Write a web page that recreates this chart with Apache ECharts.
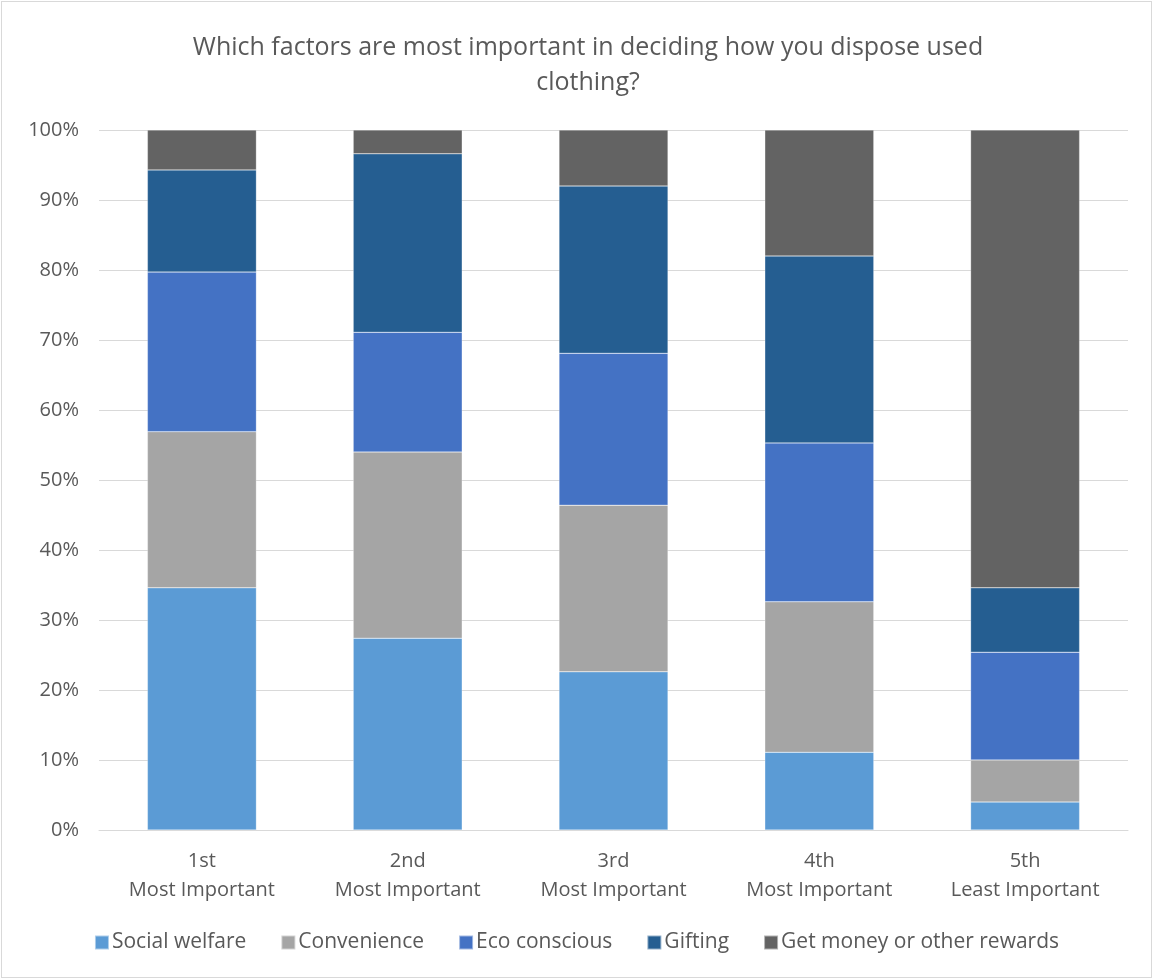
<!DOCTYPE html>
<html>
<head>
<meta charset="utf-8">
<script src="https://cdn.jsdelivr.net/npm/echarts@6/dist/echarts.min.js"></script>
<style>
  html, body { margin: 0; padding: 0; background: #fff; }
  #main { position: absolute; left: 1px; top: 1px; width: 1149px; height: 975px; border: 1px solid #d9d9d9; }
</style>
</head>
<body>
<div id="main"></div>
<script>
// categories and stacked shares (percent)
const categories = ['1st\nMost Important', '2nd\nMost Important', '3rd\nMost Important', '4th\nMost Important', '5th\nLeast Important'];
const socialWelfare = [34.6, 27.4, 22.6, 11.1, 4.0];
const convenience   = [22.3, 26.6, 23.8, 21.5, 6.0];
const ecoConscious  = [22.8, 17.1, 21.7, 22.7, 15.4];
const gifting       = [14.6, 25.5, 23.9, 26.7, 9.2];
const getMoney      = [5.7, 3.4, 8.0, 18.0, 65.4];

const seriesNames = ['Social welfare', 'Convenience', 'Eco conscious', 'Gifting', 'Get money or other rewards'];
const seriesData = [socialWelfare, convenience, ecoConscious, gifting, getMoney];
const colors = ['#5B9BD5', '#A5A5A5', '#4472C4', '#255E91', '#636363'];

const font = 'Open Sans';

let myChart = echarts.init(document.getElementById('main'));
let option = {
  color: colors,
  animation: false,
  title: {
    text: 'Which factors are most important in deciding how you dispose used\nclothing?',
    left: 581,
    top: 23,
    textAlign: 'center',
    textStyle: { fontFamily: font, fontSize: 25, fontWeight: 'normal', color: '#595959', lineHeight: 35 }
  },
  legend: {
    bottom: 19,
    left: 'center',
    itemWidth: 14,
    itemHeight: 14,
    itemGap: 34,
    icon: 'rect',
    textStyle: { fontFamily: font, fontSize: 21, color: '#595959', padding: [0, 0, 0, -2] }
  },
  grid: { left: 97, right: 23, top: 128, bottom: 147 },
  xAxis: {
    type: 'category',
    data: categories,
    axisLine: { lineStyle: { color: '#d9d9d9' } },
    axisTick: { show: false },
    axisLabel: { fontFamily: font, fontSize: 20, color: '#595959', lineHeight: 29, margin: 17 }
  },
  yAxis: {
    type: 'value',
    min: 0,
    max: 100,
    interval: 10,
    axisLine: { show: false },
    axisTick: { show: false },
    splitLine: { lineStyle: { color: '#d9d9d9' } },
    axisLabel: { fontFamily: font, fontSize: 20, color: '#595959', margin: 20, formatter: '{value}%' }
  },
  series: seriesNames.map((name, i) => ({
    name: name,
    type: 'bar',
    stack: 'total',
    barWidth: 109,
    data: seriesData[i],
    itemStyle: { borderColor: 'rgba(255,255,255,0.5)', borderWidth: 0.5 }
  }))
};
myChart.setOption(option);
window.onresize = function () { myChart.resize(); };
</script>
</body>
</html>
